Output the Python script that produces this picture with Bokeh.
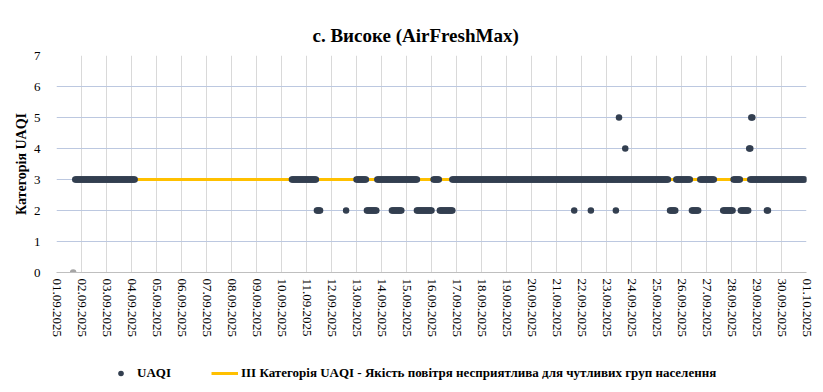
import pandas as pd
from bokeh.plotting import figure
from bokeh.layouts import column
from bokeh.models import (ColumnDataSource, FixedTicker, DatetimeTickFormatter,
                          Legend, LegendItem, Range1d)
from bokeh.embed import file_html
from bokeh.resources import INLINE

title_text = "с. Високе (AirFreshMax)"
y_label = "Категорія UAQI"
series_name = "UAQI"
threshold_name = "III Категорія UAQI - Якість повітря несприятлива для чутливих груп населення"

# Hourly UAQI readings, stored as runs of equal value (start, end, value)
run_start = ["2025-09-01 18:00", "2025-09-10 10:00", "2025-09-11 10:00", "2025-09-12 14:00",
             "2025-09-13 00:00", "2025-09-13 10:00", "2025-09-13 20:00", "2025-09-14 10:00",
             "2025-09-15 10:00", "2025-09-16 02:00", "2025-09-16 08:00", "2025-09-16 20:00",
             "2025-09-21 17:00", "2025-09-22 09:00", "2025-09-23 09:00", "2025-09-23 12:00",
             "2025-09-23 18:00", "2025-09-25 13:00", "2025-09-25 19:00", "2025-09-26 10:00",
             "2025-09-26 18:00", "2025-09-27 16:00", "2025-09-28 02:00", "2025-09-28 09:00",
             "2025-09-28 17:00", "2025-09-28 19:00", "2025-09-28 18:00", "2025-09-29 10:00"]
run_end = ["2025-09-04 03:00", "2025-09-11 09:00", "2025-09-11 13:00", "2025-09-12 14:00",
           "2025-09-13 09:00", "2025-09-13 19:00", "2025-09-15 10:00", "2025-09-14 19:00",
           "2025-09-16 00:00", "2025-09-16 07:00", "2025-09-16 20:00", "2025-09-25 11:00",
           "2025-09-21 17:00", "2025-09-22 09:00", "2025-09-23 09:00", "2025-09-23 12:00",
           "2025-09-23 18:00", "2025-09-25 18:00", "2025-09-26 08:00", "2025-09-26 16:00",
           "2025-09-27 07:00", "2025-09-28 01:00", "2025-09-28 08:00", "2025-09-28 16:00",
           "2025-09-28 18:00", "2025-09-28 20:00", "2025-09-30 22:00", "2025-09-29 11:00"]
run_value = [3, 3, 2, 2,
             3, 2, 3, 2,
             2, 3, 2, 3,
             2, 2, 2, 5,
             4, 2, 3, 2,
             3, 2, 3, 2,
             4, 5, 3, 2]

zero_time = ["2025-09-01 16:00"]
zero_value = [0]

threshold_start = "2025-09-01 16:00"
threshold_end = "2025-09-30 22:00"
threshold_value = 3

axis_start = "2025-09-01 00:00"
axis_end = "2025-10-01 00:00"

# expand runs into hourly readings
xs, ys = [], []
for s, e, v in zip(run_start, run_end, run_value):
    for t in pd.date_range(s, e, freq="h"):
        xs.append(t)
        ys.append(v)
uaqi = ColumnDataSource(data=dict(t=xs, v=ys))
zero = ColumnDataSource(data=dict(t=pd.to_datetime(zero_time), v=zero_value))
thr_t = list(pd.date_range(threshold_start, threshold_end, freq="h"))
thr = ColumnDataSource(data=dict(t=thr_t, v=[threshold_value] * len(thr_t)))

tick_ms = [int(t.value // 10**6) for t in pd.date_range(axis_start, axis_end, freq="D")]

SERIF = "Liberation Serif"
DOT = "#333F50"
GOLD = "#FFC000"

p = figure(width=None, height=None, frame_width=750, frame_height=217,
           x_axis_type="datetime",
           x_range=Range1d(pd.Timestamp(axis_start), pd.Timestamp(axis_end)),
           y_range=Range1d(0, 7),
           min_border_left=56, min_border_right=8, min_border_top=55, min_border_bottom=72,
           output_backend="svg", toolbar_location=None)

p.title.text = title_text
p.title.align = "left"
p.title.offset = 256
p.title.text_font = SERIF
p.title.text_font_size = "19px"
p.title.text_font_style = "bold"
p.title.text_color = "#000000"
p.title.standoff = 20

p.outline_line_color = None

# grids
p.xgrid.ticker = FixedTicker(ticks=tick_ms)
p.xgrid.grid_line_color = "#D9D9D9"
p.ygrid.ticker = FixedTicker(ticks=list(range(0, 8)))
p.ygrid.grid_line_color = "#BCC8E0"

# x axis
p.xaxis.ticker = FixedTicker(ticks=tick_ms)
fmt = "%d.%m.%Y"
p.xaxis.formatter = DatetimeTickFormatter(microseconds=fmt, milliseconds=fmt, seconds=fmt,
                                          minsec=fmt, minutes=fmt, hourmin=fmt, hours=fmt,
                                          days=fmt, months=fmt, years=fmt)
p.xaxis.major_label_orientation = "vertical"
p.xaxis.major_label_text_font = SERIF
p.xaxis.major_label_text_font_size = "13px"
p.xaxis.major_label_text_color = "#000000"
p.xaxis.major_label_standoff = 0
p.xaxis.major_tick_line_color = None
p.xaxis.minor_tick_line_color = None
p.xaxis.axis_line_color = "#BFBFBF"

# y axis
p.yaxis.ticker = FixedTicker(ticks=list(range(0, 8)))
p.yaxis.major_label_text_font = SERIF
p.yaxis.major_label_text_font_size = "13px"
p.yaxis.major_label_text_color = "#000000"
p.yaxis.major_label_standoff = 10
p.yaxis.major_tick_line_color = None
p.yaxis.minor_tick_line_color = None
p.yaxis.axis_line_color = None
p.yaxis.axis_label = y_label
p.yaxis.axis_label_text_font = SERIF
p.yaxis.axis_label_text_font_size = "14px"
p.yaxis.axis_label_text_font_style = "bold"
p.yaxis.axis_label_text_color = "#000000"
p.yaxis.axis_label_standoff = 2

p.line("t", "v", source=thr, line_color=GOLD, line_width=3)
p.scatter("t", "v", source=zero, size=6.5, fill_color="#A5A5A5", line_color=None)
p.scatter("t", "v", source=uaqi, size=6.5, fill_color=DOT, line_color=None)

# legend strip below the chart: same series, drawn out of view, only their legend shows
lg = figure(width=814, height=40, x_range=Range1d(0, 1), y_range=Range1d(100, 101),
            x_axis_location=None, y_axis_location=None,
            min_border_left=0, min_border_right=0, min_border_top=0, min_border_bottom=0,
            output_backend="svg", toolbar_location=None)
lg.grid.visible = False
lg.outline_line_color = None
leg_dot = lg.scatter("t", "v", source=uaqi, size=6, fill_color=DOT, line_color=None)
leg_line = lg.line("t", "v", source=thr, line_color=GOLD, line_width=3)

legend = Legend(items=[LegendItem(label=series_name, renderers=[leg_dot]),
                       LegendItem(label=threshold_name, renderers=[leg_line])],
                orientation="horizontal", location=(51, 3),
                padding=0, margin=0, spacing=40, label_standoff=3,
                glyph_width=27, glyph_height=14, label_height=14,
                label_text_font=SERIF, label_text_font_size="13px",
                label_text_font_style="bold", label_text_color="#000000",
                border_line_color=None, background_fill_alpha=0)
lg.add_layout(legend, "center")

open("out.html", "w").write(file_html(column(p, lg, spacing=0), INLINE))
